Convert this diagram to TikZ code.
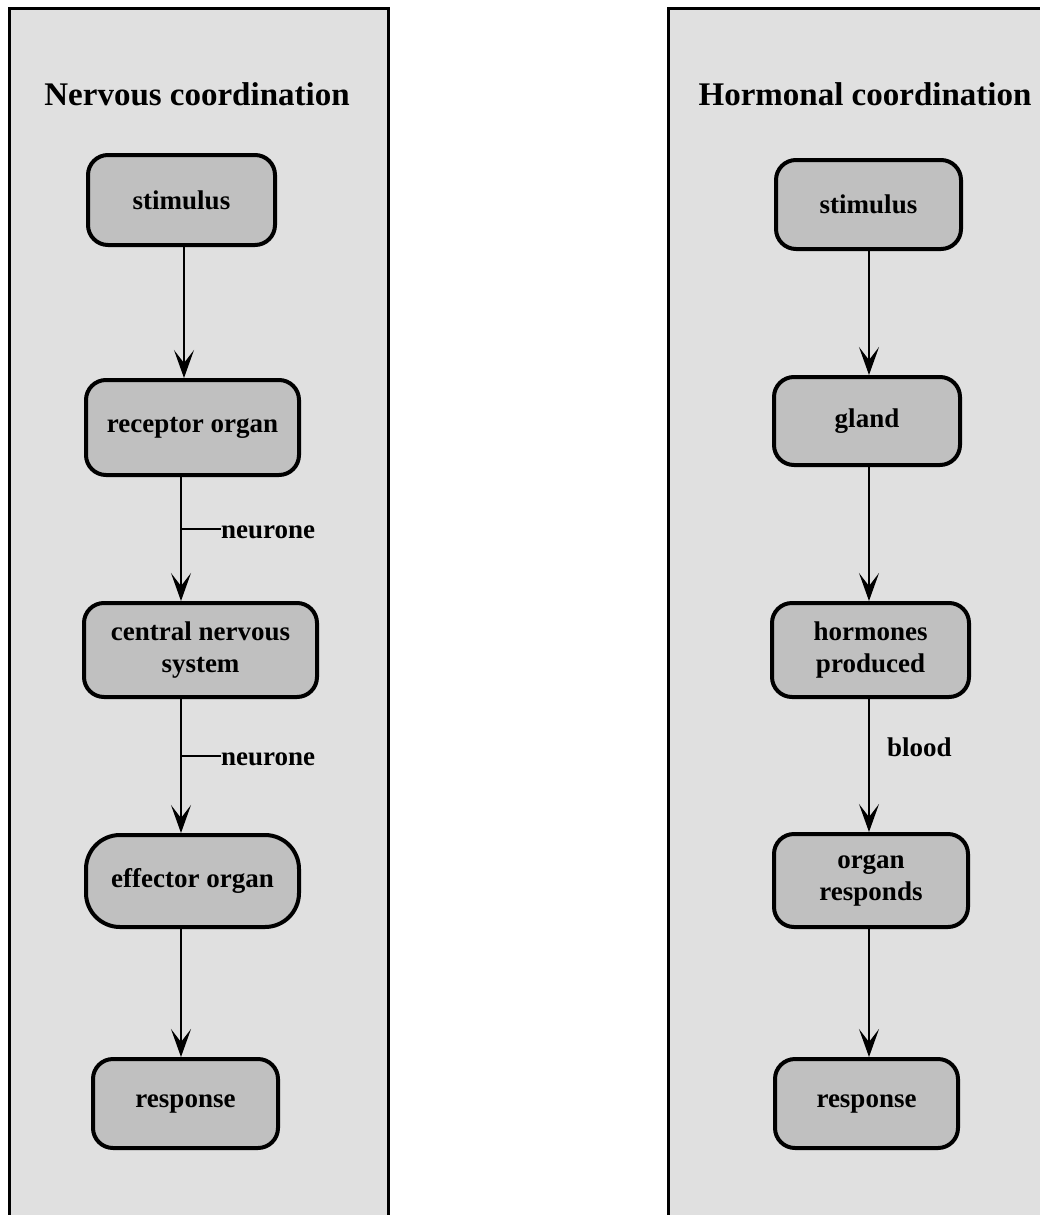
\documentclass[tikz,border=0pt]{standalone}
\usepackage{fontspec}
\setmainfont{Liberation Serif}
\usetikzlibrary{arrows.meta}
\definecolor{panelgray}{gray}{0.878}
\definecolor{boxgray}{gray}{0.753}
\begin{document}
\begin{tikzpicture}[x=1pt,y=-1pt,
  box/.style={draw=black, fill=boxgray, line width=4pt, rounded corners=20pt, align=center,
    font=\fontsize{27}{32}\selectfont\bfseries, inner sep=0pt},
  lbl/.style={font=\fontsize{27}{32}\selectfont\bfseries, inner sep=0pt},
  ttl/.style={font=\fontsize{33}{38}\selectfont\bfseries, inner sep=0pt},
  conn/.style={line width=1.5pt, -{Stealth[length=28pt,width=20pt,inset=13pt]}},
  tick/.style={line width=1.5pt},
  border/.style={line width=3pt}]
\fill[white] (0,0) rectangle (1040,1215);
\useasboundingbox (0,0) rectangle (1040,1215);
\clip (0,0) rectangle (1040,1215);
% panels
\fill[panelgray] (9,9) rectangle (388,1240);
\draw[border] (9,1240) -- (9,9) -- (388,9) -- (388,1240);
\fill[panelgray] (668,9) rectangle (1060,1240);
\draw[border] (668,1240) -- (668,9) -- (1060,9);
% titles
\node[ttl, anchor=base] (tn) at (197,105) {Nervous coordination};
\node[ttl, anchor=base] (th) at (865,105) {Hormonal coordination};
% left column
\coordinate (lx) at (181,0);
\coordinate (lx0) at (184,0);
\node[box, minimum width=187pt, minimum height=90pt] (ns) at (181.5,200) {stimulus};
\node[box, minimum width=213pt, minimum height=95pt] (nr) at (192.5,427.5) {receptor organ};
\node[box, minimum width=233pt, minimum height=94pt] (nc) at (200.5,650) {central nervous\\system};
\node[box, minimum width=213pt, minimum height=92pt, rounded corners=34pt] (ne) at (192.5,881) {effector organ};
\node[box, minimum width=185pt, minimum height=89pt] (nx) at (185.5,1103.5) {response};
\draw[conn] (ns.south -| lx0) -- (nr.north -| lx0);
\draw[conn] (nr.south -| lx) -- (nc.north -| lx);
\draw[conn] (nc.south -| lx) -- (ne.north -| lx);
\draw[conn] (ne.south -| lx) -- (nx.north -| lx);
\node[lbl, anchor=base west] (n1) at (221,538) {neurone};
\node[lbl, anchor=base west] (n2) at (221,765) {neurone};
\coordinate (t1) at (181,529);
\coordinate (t2) at (181,756);
\draw[tick] (t1) -- (t1 -| n1.west);
\draw[tick] (t2) -- (t2 -| n2.west);
% right column
\coordinate (rx) at (869,0);
\node[box, minimum width=185pt, minimum height=89pt] (hs) at (868.5,204.5) {stimulus};
\node[box, minimum width=186pt, minimum height=88pt] (hg) at (867,421) {gland};
\node[box, minimum width=197pt, minimum height=94pt] (hh) at (870.5,650) {hormones\\produced};
\node[box, minimum width=194pt, minimum height=93pt] (ho) at (871,880.5) {organ\\responds};
\node[box, minimum width=183pt, minimum height=89pt] (hx) at (866.5,1103.5) {response};
\draw[conn] (hs.south -| rx) -- (hg.north -| rx);
\draw[conn] (hg.south -| rx) -- (hh.north -| rx);
\draw[conn] (hh.south -| rx) -- (ho.north -| rx);
\draw[conn] (ho.south -| rx) -- (hx.north -| rx);
\node[lbl, anchor=base west] (bl) at (887,756) {blood};
\end{tikzpicture}
\end{document}
